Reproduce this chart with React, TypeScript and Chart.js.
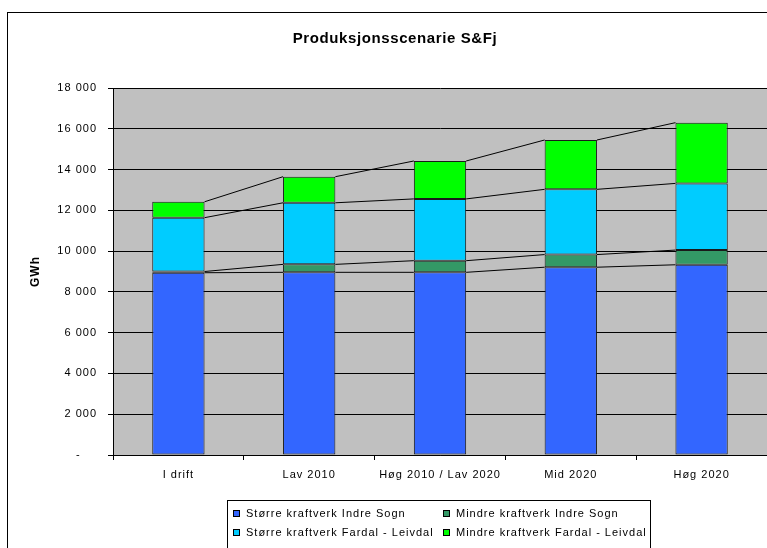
import React, { useEffect, useRef } from 'react';
import { Chart, registerables } from 'chart.js';

Chart.register(...registerables);

const titleText = 'Produksjonsscenarie S&Fj';
const yAxisTitle = 'GWh';
const categories = ['I drift', 'Lav 2010', 'Høg 2010 / Lav 2020', 'Mid 2020', 'Høg 2020'];
const seriesNames = [
  'Større kraftverk Indre Sogn',
  'Mindre kraftverk Indre Sogn',
  'Større kraftverk Fardal - Leivdal',
  'Mindre kraftverk Fardal - Leivdal',
];
const storreIndreSogn = [8940, 8960, 8960, 9210, 9330];
const mindreIndreSogn = [60, 390, 570, 620, 720];
const storreFardalLeivdal = [2640, 3020, 3030, 3200, 3270];
const mindreFardalLeivdal = [780, 1280, 1860, 2420, 2980];
const seriesValues = [storreIndreSogn, mindreIndreSogn, storreFardalLeivdal, mindreFardalLeivdal];
const seriesColors = ['#3366FF', '#339966', '#00CCFF', '#00FF00'];
const yMin = 0;
const yMax = 18000;
const yStep = 2000;

const FONT = "'Liberation Sans', Arial, sans-serif";

function formatTick(v: number): string {
  if (v === 0) return '-    ';
  return String(v).replace(/\B(?=(\d{3})+(?!\d))/g, ' ');
}

const decorPlugin = {
  id: 'decor',
  beforeDraw(chart: any) {
    const { ctx, chartArea } = chart;
    ctx.save();
    ctx.fillStyle = '#FFFFFF';
    ctx.fillRect(0, 0, chart.width, chart.height);
    ctx.strokeStyle = '#000000';
    ctx.lineWidth = 1;
    ctx.strokeRect(7.5, 12.5, 900, 700);
    ctx.fillStyle = '#C0C0C0';
    ctx.fillRect(chartArea.left, chartArea.top, chartArea.right - chartArea.left, chartArea.bottom - chartArea.top);
    ctx.restore();
    (ctx as any).letterSpacing = '1px';
  },
  afterDatasetsDraw(chart: any) {
    const { ctx } = chart;
    ctx.save();
    ctx.strokeStyle = '#000000';
    ctx.lineWidth = 1;
    chart.data.datasets.forEach((_ds: any, di: number) => {
      const meta = chart.getDatasetMeta(di);
      for (let i = 0; i < meta.data.length - 1; i++) {
        const a: any = meta.data[i];
        const b: any = meta.data[i + 1];
        ctx.beginPath();
        ctx.moveTo(a.x + a.width / 2, a.y);
        ctx.lineTo(b.x - b.width / 2, b.y);
        ctx.stroke();
      }
    });
    ctx.restore();
  },
  afterDraw(chart: any) {
    const { ctx } = chart;
    ctx.save();
    // title
    (ctx as any).letterSpacing = '0.6px';
    ctx.fillStyle = '#000000';
    ctx.font = `bold 15px ${FONT}`;
    ctx.textAlign = 'center';
    ctx.textBaseline = 'middle';
    ctx.fillText(titleText, 395, 39);
    // legend
    (ctx as any).letterSpacing = '1px';
    ctx.strokeStyle = '#000000';
    ctx.lineWidth = 1;
    ctx.strokeRect(227.5, 500.5, 423, 80);
    ctx.font = `11px ${FONT}`;
    ctx.textAlign = 'left';
    const colX = [233, 443];
    const rowY = [514, 533];
    seriesNames.forEach((name, i) => {
      const c = i % 2;
      const r = Math.floor(i / 2);
      const x = colX[c];
      const y = rowY[r];
      ctx.fillStyle = seriesColors[i];
      ctx.fillRect(x, y - 4, 7, 7);
      ctx.strokeRect(x + 0.5, y - 3.5, 6, 6);
      ctx.fillStyle = '#000000';
      ctx.fillText(name, x + 13, y);
    });
    ctx.restore();
  },
};

export default function App() {
  const canvasRef = useRef<HTMLCanvasElement | null>(null);

  useEffect(() => {
    if (!canvasRef.current) return;
    const chart = new Chart(canvasRef.current, {
      type: 'bar',
      data: {
        labels: categories,
        datasets: seriesNames.map((name, i) => ({
          label: name,
          data: seriesValues[i],
          backgroundColor: seriesColors[i],
          borderColor: '#1a1a1a',
          borderWidth: 1,
          borderSkipped: false,
          barPercentage: 0.4,
          categoryPercentage: 1,
        })),
      },
      options: {
        responsive: false,
        animation: false,
        devicePixelRatio: 1,
        layout: { padding: { top: 88, right: 0, bottom: 63, left: 0 } },
        plugins: {
          legend: { display: false },
          title: { display: false },
          tooltip: { enabled: false },
        },
        scales: {
          x: {
            stacked: true,
            offset: true,
            grid: {
              display: true,
              drawOnChartArea: false,
              drawTicks: true,
              tickLength: 5,
              offset: true,
              color: '#000000',
            },
            border: { display: true, color: '#000000', width: 1 },
            ticks: {
              color: '#000000',
              font: { family: FONT, size: 11 },
              padding: 8,
              maxRotation: 0,
              autoSkip: false,
            },
            afterFit: (s: any) => {
              s.height = 30;
            },
          },
          y: {
            stacked: true,
            min: yMin,
            max: yMax,
            grid: { color: '#000000', tickLength: 5, lineWidth: 1 },
            border: { display: true, color: '#000000', width: 1 },
            ticks: {
              stepSize: yStep,
              color: '#000000',
              font: { family: FONT, size: 11 },
              padding: 11,
              callback: (v: any) => formatTick(Number(v)),
            },
            title: {
              display: true,
              text: yAxisTitle,
              color: '#000000',
              font: { family: FONT, size: 12, weight: 'bold' },
              padding: { top: 28, bottom: 0 },
            },
            afterFit: (s: any) => {
              s.width = 113;
            },
          },
        },
      } as any,
      plugins: [decorPlugin],
    });
    return () => chart.destroy();
  }, []);

  return (
    <div style={{ position: 'fixed', left: 0, top: 0, width: 767, height: 548, background: '#fff' }}>
      <canvas ref={canvasRef} width={767} height={548} style={{ width: 767, height: 548, display: 'block' }} />
    </div>
  );
}
